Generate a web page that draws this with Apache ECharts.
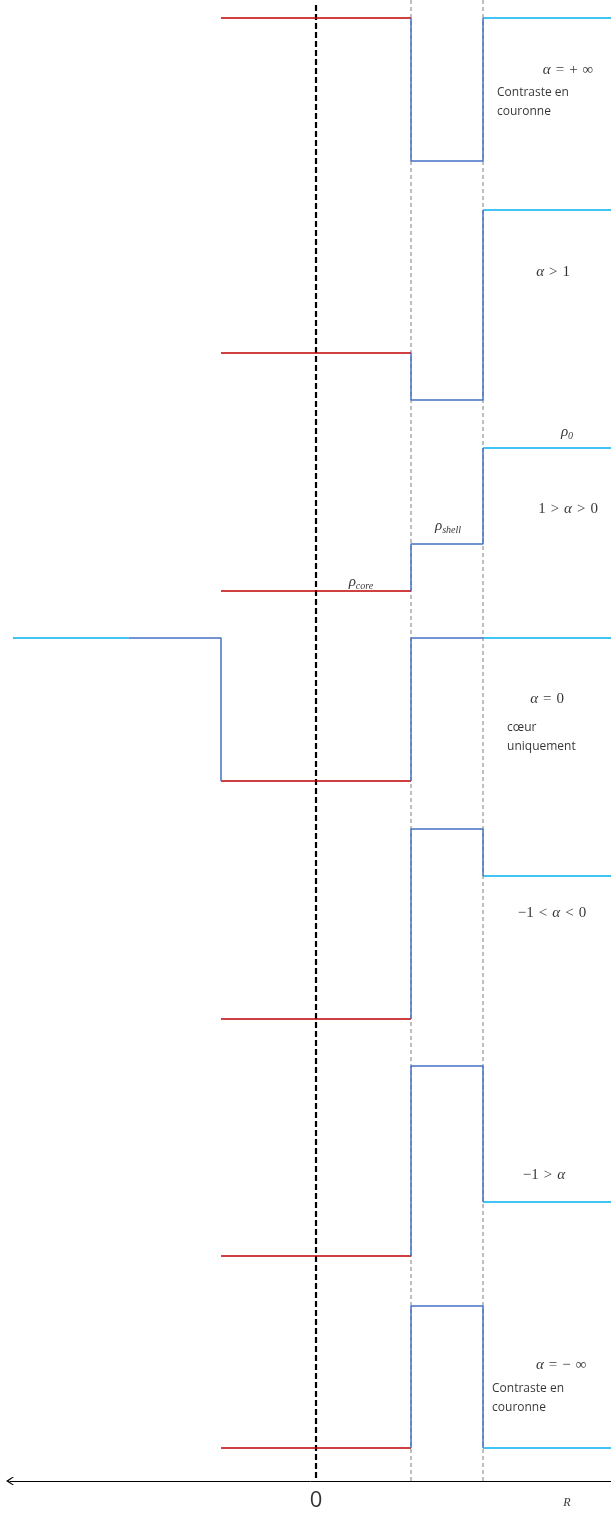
<!DOCTYPE html>
<html><head><meta charset="utf-8">
<script src="https://cdn.jsdelivr.net/npm/echarts@6/dist/echarts.min.js"></script>
<style>html,body{margin:0;padding:0;background:#fff}#c{width:611px;height:1513px}</style>
</head><body><div id="c"></div>
<script>
// ---- data ----
const panelNames = ['α = +∞', 'α > 1', '1 > α > 0', 'α = 0', '−1 < α < 0', '−1 > α', 'α = −∞'];
const coreLevels   = [146.3, 112.8, 89.0, 70.0, 46.2, 22.5, 3.3];
const shellLevels  = [132.0, 108.1, 93.7, 84.3, 65.2, 41.5, 17.5];
const mediumLevels = [146.3, 127.1, 103.3, 84.3, 60.5, 27.9, 3.3];
const coreRadius = 1.0;
const shellRadius = 1.758;
const leftCoreEdge = -1.0;
const outerEdge = 3.105;
const fullProfileStart = -3.19;   // panel α = 0 shows the medium on the left too
const fullProfileBlueStart = -1.97;
const xTickLabels = ['0'];
const axisTop = 148.1;
const centerTop = 147.6;

const S = '\u2004';
const annotations = [
  {x: 2.653, y: 141.1, text: '{i|α}' + S + '=' + S + '+' + S + '∞', kind: 'math', align: 'center'},
  {x: 1.905, y: 137.85, text: 'Contraste en\ncouronne', kind: 'text', align: 'left'},
  {x: 2.495, y: 120.9, text: '{i|α}' + S + '>' + S + '1', kind: 'math', align: 'center'},
  {x: 2.642, y: 104.9, text: '{i|ρ}{s|0}', kind: 'math', align: 'center'},
  {x: 2.653, y: 97.2, text: '1' + S + '>' + S + '{i|α}' + S + '>' + S + '0', kind: 'math', align: 'center'},
  {x: 1.389, y: 95.5, text: '{i|ρ}{s|shell}', kind: 'math', align: 'center'},
  {x: 0.473, y: 89.9, text: '{i|ρ}{s|core}', kind: 'math', align: 'center'},
  {x: 2.432, y: 78.2, text: '{i|α}' + S + '=' + S + '0', kind: 'math', align: 'center'},
  {x: 2.011, y: 74.4, text: 'cœur\nuniquement', kind: 'text', align: 'left'},
  {x: 2.484, y: 56.8, text: '−1' + S + '<' + S + '{i|α}' + S + '<' + S + '0', kind: 'math', align: 'center'},
  {x: 2.4, y: 30.6, text: '−1' + S + '>' + S + '{i|α}', kind: 'math', align: 'center'},
  {x: 2.58, y: 11.6, text: '{i|α}' + S + '=' + S + '−' + S + '∞', kind: 'math', align: 'center'},
  {x: 1.853, y: 8.3, text: 'Contraste en\ncouronne', kind: 'text', align: 'left'},
  {x: 2.642, y: -2.2, text: '{r|R}', kind: 'math', align: 'center'},
  {x: 0, y: -2.0, text: '{t|' + xTickLabels[0] + '}', kind: 'text', align: 'center'}
];

const RED = '#C00000', BLUE = '#4472C4', CYAN = '#00B0F0';

function lineSeries(data, color, width, type) {
  return {
    type: 'line', data: data, showSymbol: false, symbol: 'none', silent: true,
    animation: false, z: 3,
    lineStyle: {color: color, width: width, type: type || 'solid'}
  };
}

const series = [];
// guide lines
series.push(Object.assign(lineSeries([[coreRadius, axisTop], [coreRadius, 0]], '#7F7F7F', 1, [4, 3]), {z: 1}));
series.push(Object.assign(lineSeries([[shellRadius, axisTop], [shellRadius, 0]], '#7F7F7F', 1, [4, 3]), {z: 1}));
series.push(Object.assign(lineSeries([[0, centerTop], [0, 0]], '#000000', 2.2, [6, 3]), {z: 2}));

for (let i = 0; i < panelNames.length; i++) {
  const c = coreLevels[i], s = shellLevels[i], m = mediumLevels[i];
  series.push(lineSeries([[leftCoreEdge, c], [coreRadius, c]], RED, 1.5));
  series.push(lineSeries([[coreRadius, c], [coreRadius, s], [shellRadius, s], [shellRadius, m]], BLUE, 1.5));
  series.push(lineSeries([[shellRadius, m], [outerEdge, m]], CYAN, 1.5));
  if (i === 3) {
    series.push(lineSeries([[fullProfileStart, m], [fullProfileBlueStart, m]], CYAN, 1.5));
    series.push(lineSeries([[fullProfileBlueStart, m], [leftCoreEdge, m], [leftCoreEdge, c]], BLUE, 1.5));
  }
}

series.push({
  type: 'scatter', symbolSize: 0, silent: true, animation: false, z: 5,
  data: annotations.map(a => ({
    value: [a.x, a.y],
    label: {
      show: true, position: 'inside', formatter: a.text, align: a.align, verticalAlign: 'middle',
      color: '#000',
      fontFamily: a.kind === 'math' ? 'Liberation Serif' : 'Open Sans',
      fontSize: a.kind === 'math' ? 15 : 12,
      lineHeight: a.kind === 'math' ? 18 : 19,
      rich: {
        i: {fontFamily: 'Liberation Serif', fontStyle: 'italic', fontSize: 15, color: '#000'},
        r: {fontFamily: 'Liberation Serif', fontStyle: 'italic', fontSize: 12, color: '#000'},
        s: {fontFamily: 'Liberation Serif', fontStyle: 'italic', fontSize: 10, color: '#000', padding: [8, 0, 0, 0]},
        t: {fontFamily: 'Open Sans', fontSize: 22, color: '#000', lineHeight: 26}
      }
    }
  }))
});

const chart = echarts.init(document.getElementById('c'), null, {renderer: 'canvas'});
chart.setOption({
  backgroundColor: '#fff',
  animation: false,
  grid: {left: 10, right: 0, top: 0, bottom: 0, containLabel: false, outerBoundsMode: 'none'},
  xAxis: {
    type: 'value', min: -3.221, max: outerEdge,
    splitLine: {show: false}, axisTick: {show: false}, axisLabel: {show: false},
    axisLine: {show: true, onZero: true, lineStyle: {color: '#000', width: 1},
      symbol: ['path://M5,0 L10,8 L10,10 L5,3.2 L0,10 L0,8 Z', 'none'], symbolSize: [9, 8]}
  },
  yAxis: {
    type: 'value', min: -3.2, max: axisTop, show: false
  },
  series: series
});
</script></body></html>
